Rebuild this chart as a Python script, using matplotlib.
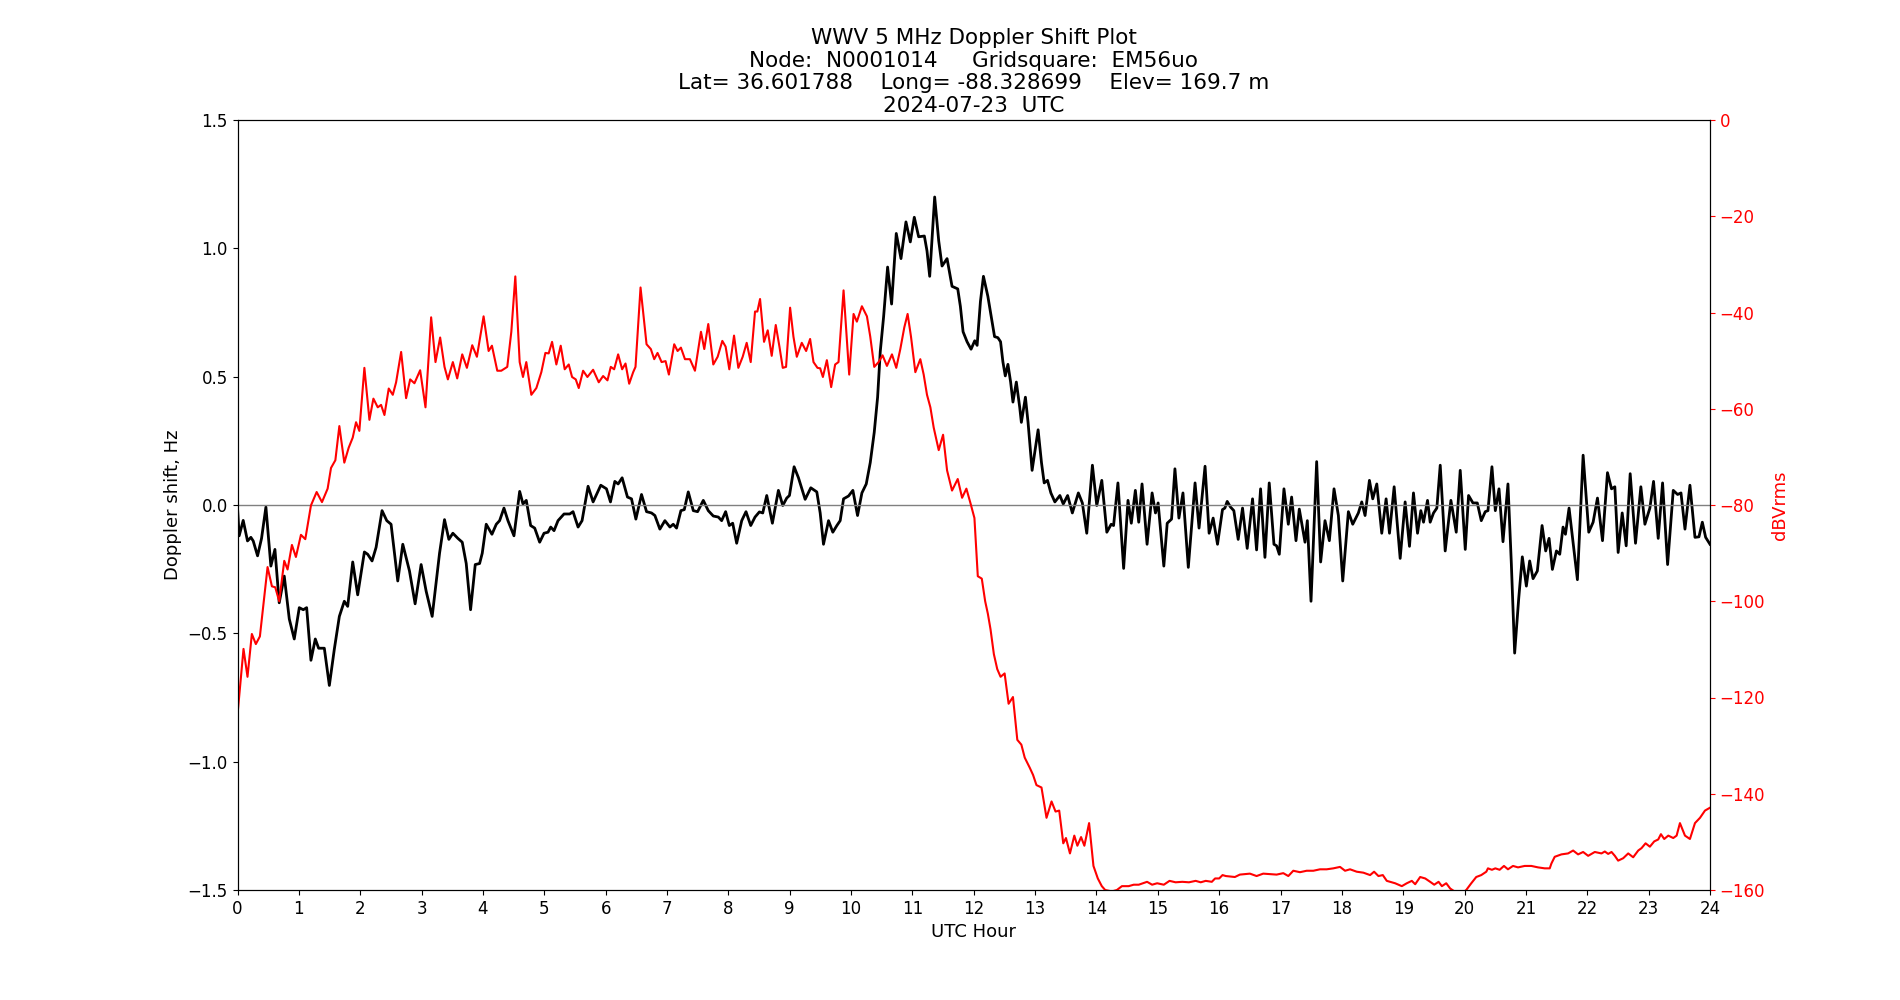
import matplotlib
matplotlib.use("Agg")
import matplotlib.pyplot as plt
import numpy as np

# Doppler shift (Hz) vs UTC hour
dop_hours = [0.0, 0.027, 0.093, 0.163, 0.218, 0.256, 0.327, 0.392, 0.463, 0.544, 0.61, 0.68, 0.762, 0.844, 0.925,
             1.007, 1.072, 1.127, 1.197, 1.268, 1.322, 1.415, 1.497, 1.578, 1.66, 1.741, 1.796, 1.878, 1.959,
             2.068, 2.122, 2.193, 2.259, 2.356, 2.433, 2.503, 2.612, 2.694, 2.803, 2.895, 2.993, 3.075, 3.173,
             3.293, 3.374, 3.445, 3.51, 3.592, 3.663, 3.728, 3.799, 3.875, 3.946, 3.989, 4.054,
             4.147, 4.218, 4.272, 4.343, 4.408, 4.506, 4.599, 4.653, 4.707, 4.778, 4.844, 4.925, 4.996,
             5.061, 5.105, 5.159, 5.224, 5.322, 5.415, 5.469, 5.551, 5.616, 5.714, 5.796, 5.921, 6.014,
             6.079, 6.15, 6.204, 6.269, 6.356, 6.422, 6.493, 6.585, 6.667, 6.748, 6.803, 6.884, 6.966,
             7.048, 7.102, 7.156, 7.227, 7.282, 7.347, 7.429, 7.499, 7.592, 7.673, 7.755, 7.837, 7.891,
             7.956, 8.016, 8.071, 8.136, 8.218, 8.288, 8.365, 8.435, 8.506, 8.561, 8.626, 8.718, 8.816,
             8.887, 8.952, 8.996, 9.072, 9.143, 9.252, 9.344, 9.442, 9.497, 9.551, 9.633, 9.703, 9.769,
             9.823, 9.878, 9.959, 10.03, 10.106, 10.177, 10.248, 10.313, 10.378, 10.433, 10.476, 10.531,
             10.596, 10.661, 10.737, 10.814, 10.895, 10.966, 11.031, 11.102, 11.195, 11.238, 11.282,
             11.363, 11.429, 11.483, 11.565, 11.646, 11.739, 11.782, 11.826, 11.891, 11.956, 12.016,
             12.055, 12.109, 12.158, 12.23, 12.284, 12.339, 12.393, 12.437, 12.475, 12.514, 12.557,
             12.601, 12.639, 12.694, 12.749, 12.776, 12.842, 12.885, 12.951, 13.049, 13.104, 13.148,
             13.202, 13.257, 13.322, 13.404, 13.459, 13.53, 13.607, 13.705, 13.77, 13.842, 13.934,
             14.005, 14.087, 14.169, 14.24, 14.279, 14.35, 14.443, 14.514, 14.568, 14.634, 14.689,
             14.743, 14.825, 14.907, 14.962, 15.005, 15.098, 15.153, 15.224, 15.279, 15.344, 15.41,
             15.497, 15.607, 15.672, 15.77, 15.836, 15.902, 15.973, 16.054, 16.093, 16.131, 16.185,
             16.239, 16.31, 16.381, 16.457, 16.544, 16.61, 16.675, 16.746, 16.816, 16.893, 16.936,
             16.98, 17.056, 17.127, 17.181, 17.252, 17.306, 17.399, 17.437, 17.497, 17.589, 17.654,
             17.725, 17.796, 17.872, 17.943, 18.014, 18.106, 18.177, 18.269, 18.324, 18.378, 18.449,
             18.503, 18.569, 18.65, 18.721, 18.776, 18.852, 18.95, 19.031, 19.102, 19.167, 19.233,
             19.287, 19.331, 19.396, 19.439, 19.494, 19.548, 19.603, 19.684, 19.777, 19.864, 19.929,
             20.011, 20.065, 20.136, 20.207, 20.272, 20.337, 20.381, 20.446, 20.501, 20.561, 20.626,
             20.707, 20.762, 20.816, 20.882, 20.941, 21.007, 21.061, 21.116, 21.186, 21.263, 21.322,
             21.377, 21.431, 21.497, 21.551, 21.605, 21.644, 21.703, 21.769, 21.839, 21.932, 22.024,
             22.095, 22.166, 22.248, 22.329, 22.395, 22.449, 22.503, 22.569, 22.634, 22.699, 22.786,
             22.873, 22.939, 23.02, 23.08, 23.156, 23.227, 23.309, 23.401, 23.472, 23.527, 23.592,
             23.673, 23.755, 23.82, 23.875, 23.929, 24.0]
dop_hz = [-0.01, -0.12, -0.06, -0.14, -0.126, -0.14, -0.198, -0.13, -0.008, -0.238, -0.173, -0.381, -0.277, -0.444, -0.522,
          -0.4, -0.408, -0.4, -0.605, -0.522, -0.558, -0.558, -0.703, -0.562, -0.434, -0.375, -0.395, -0.222, -0.35,
          -0.183, -0.192, -0.218, -0.165, -0.022, -0.061, -0.075, -0.296, -0.153, -0.257, -0.385, -0.232, -0.336, -0.434,
          -0.188, -0.057, -0.134, -0.11, -0.13, -0.145, -0.228, -0.408, -0.232, -0.228, -0.188, -0.075,
          -0.114, -0.075, -0.061, -0.012, -0.061, -0.12, 0.053, 0.004, 0.018, -0.08, -0.09, -0.145, -0.11,
          -0.106, -0.086, -0.1, -0.061, -0.035, -0.035, -0.026, -0.086, -0.061, 0.073, 0.012, 0.077, 0.063,
          0.012, 0.092, 0.082, 0.106, 0.031, 0.024, -0.055, 0.041, -0.026, -0.031, -0.041, -0.094, -0.061,
          -0.086, -0.075, -0.09, -0.022, -0.018, 0.051, -0.022, -0.026, 0.018, -0.022, -0.043, -0.047, -0.061,
          -0.026, -0.08, -0.071, -0.149, -0.061, -0.026, -0.08, -0.047, -0.027, -0.031, 0.037, -0.071, 0.057,
          -0.002, 0.027, 0.037, 0.149, 0.106, 0.022, 0.067, 0.051, -0.031, -0.153, -0.061, -0.106, -0.08,
          -0.061, 0.024, 0.035, 0.057, -0.041, 0.047, 0.082, 0.165, 0.283, 0.42, 0.597, 0.734,
          0.927, 0.783, 1.058, 0.96, 1.103, 1.025, 1.121, 1.045, 1.048, 0.99, 0.891,
          1.2, 1.029, 0.931, 0.96, 0.852, 0.842, 0.774, 0.675, 0.636, 0.607, 0.64,
          0.622, 0.793, 0.891, 0.813, 0.734, 0.656, 0.652, 0.636, 0.558, 0.503, 0.548,
          0.479, 0.401, 0.479, 0.381, 0.322, 0.42, 0.322, 0.135, 0.293, 0.165, 0.086,
          0.096, 0.047, 0.012, 0.037, 0.004, 0.037, -0.031, 0.047, 0.008, -0.11, 0.155,
          -0.002, 0.096, -0.106, -0.075, -0.08, 0.086, -0.247, 0.018, -0.071, 0.057, -0.067,
          0.082, -0.153, 0.047, -0.031, 0.008, -0.238, -0.071, -0.055, 0.141, -0.051, 0.047,
          -0.243, 0.086, -0.09, 0.151, -0.11, -0.051, -0.153, -0.018, -0.012, 0.014, -0.008,
          -0.022, -0.134, -0.012, -0.169, 0.024, -0.175, 0.063, -0.204, 0.086, -0.153, -0.159,
          -0.192, 0.063, -0.075, 0.031, -0.139, -0.016, -0.145, -0.061, -0.375, 0.169, -0.222,
          -0.061, -0.139, 0.063, -0.041, -0.296, -0.026, -0.075, -0.031, 0.012, -0.041, 0.096,
          0.024, 0.082, -0.11, 0.024, -0.11, 0.071, -0.208, 0.012, -0.161, 0.047, -0.11,
          -0.022, -0.067, 0.018, -0.067, -0.031, -0.012, 0.155, -0.179, 0.018, -0.106, 0.135,
          -0.173, 0.037, 0.008, 0.008, -0.061, -0.026, -0.022, 0.149, -0.022, 0.063, -0.143,
          0.082, -0.228, -0.577, -0.365, -0.202, -0.316, -0.218, -0.287, -0.257, -0.08, -0.179,
          -0.13, -0.251, -0.179, -0.192, -0.086, -0.114, -0.012, -0.149, -0.291, 0.194, -0.106,
          -0.067, 0.027, -0.139, 0.126, 0.063, 0.071, -0.185, -0.031, -0.159, 0.122, -0.149,
          0.071, -0.075, -0.012, 0.092, -0.13, 0.086, -0.232, 0.057, 0.041, 0.047, -0.094,
          0.077, -0.126, -0.124, -0.067, -0.126, -0.153]

# Received signal level (dBVrms) vs UTC hour
pwr_hours = [0.0, 0.098, 0.163, 0.234, 0.299, 0.365, 0.419, 0.49, 0.561, 0.615, 0.68, 0.762, 0.816, 0.887, 0.952,
             1.034, 1.105, 1.197, 1.29, 1.377, 1.469, 1.524, 1.595, 1.66, 1.741, 1.812, 1.878, 1.932, 1.986,
             2.068, 2.15, 2.215, 2.286, 2.34, 2.395, 2.465, 2.531, 2.585, 2.667, 2.748, 2.814, 2.884, 2.977,
             3.064, 3.156, 3.227, 3.303, 3.374, 3.429, 3.51, 3.581, 3.663, 3.739, 3.826, 3.902, 4.011,
             4.093, 4.147, 4.234, 4.299, 4.397, 4.463, 4.528, 4.599, 4.653, 4.707, 4.789, 4.871, 4.952,
             5.018, 5.072, 5.127, 5.197, 5.268, 5.333, 5.399, 5.453, 5.513, 5.562, 5.633, 5.703, 5.796,
             5.888, 5.959, 6.03, 6.084, 6.139, 6.204, 6.269, 6.324, 6.384, 6.449, 6.487, 6.569, 6.667,
             6.737, 6.792, 6.846, 6.912, 6.977, 7.031, 7.118, 7.173, 7.227, 7.293, 7.374, 7.456, 7.554,
             7.608, 7.673, 7.755, 7.826, 7.902, 7.956, 8.016, 8.093, 8.163, 8.234, 8.299, 8.365, 8.435,
             8.473, 8.517, 8.582, 8.642, 8.707, 8.773, 8.833, 8.887, 8.941, 9.007, 9.061, 9.116, 9.197,
             9.268, 9.333, 9.388, 9.453, 9.497, 9.541, 9.606, 9.676, 9.741, 9.796, 9.878, 9.97, 10.041,
             10.095, 10.177, 10.259, 10.313, 10.378, 10.449, 10.514, 10.585, 10.667, 10.737, 10.803,
             10.868, 10.922, 10.977, 11.048, 11.129, 11.184, 11.238, 11.293, 11.347, 11.429, 11.5,
             11.565, 11.646, 11.739, 11.81, 11.88, 11.946, 12.011, 12.066, 12.131, 12.186, 12.23,
             12.273, 12.328, 12.383, 12.437, 12.503, 12.568, 12.639, 12.71, 12.776, 12.831, 12.913,
             12.967, 13.022, 13.104, 13.186, 13.268, 13.333, 13.393, 13.459, 13.503, 13.568, 13.639,
             13.689, 13.749, 13.803, 13.88, 13.951, 14.022, 14.087, 14.142, 14.251, 14.333, 14.415,
             14.525, 14.607, 14.689, 14.825, 14.907, 14.989, 15.098, 15.191, 15.29, 15.399, 15.508,
             15.617, 15.699, 15.781, 15.88, 15.934, 16.0, 16.055, 16.109, 16.256, 16.337, 16.501,
             16.61, 16.718, 16.936, 17.045, 17.127, 17.208, 17.317, 17.426, 17.535, 17.644, 17.752,
             17.861, 17.97, 18.052, 18.133, 18.242, 18.351, 18.46, 18.525, 18.596, 18.667, 18.732,
             18.868, 18.977, 19.058, 19.14, 19.195, 19.276, 19.358, 19.439, 19.505, 19.576, 19.63,
             19.701, 19.766, 19.848, 19.956, 20.027, 20.109, 20.19, 20.272, 20.354, 20.381, 20.446,
             20.501, 20.571, 20.642, 20.707, 20.789, 20.871, 20.98, 21.088, 21.197, 21.306, 21.388,
             21.415, 21.469, 21.578, 21.687, 21.769, 21.85, 21.932, 22.014, 22.122, 22.231, 22.286,
             22.34, 22.395, 22.449, 22.503, 22.585, 22.667, 22.748, 22.83, 22.884, 22.95, 23.02,
             23.091, 23.156, 23.2, 23.254, 23.32, 23.401, 23.456, 23.51, 23.592, 23.673, 23.755,
             23.837, 23.918, 24.0]
pwr_db = [-123.6, -109.9, -115.7, -106.8, -108.9, -107.3, -101.0, -92.9, -96.9, -97.1, -100.0, -91.6, -93.4, -88.3, -90.8,
          -86.2, -87.1, -80.1, -77.3, -79.4, -76.6, -72.3, -70.7, -63.6, -71.2, -68.1, -66.0, -62.8, -64.6,
          -51.5, -62.3, -57.9, -59.7, -59.2, -61.3, -55.8, -57.1, -54.5, -48.2, -57.8, -53.9, -54.7, -52.0,
          -59.7, -41.0, -50.3, -45.2, -51.3, -53.9, -50.3, -53.7, -48.7, -51.5, -46.8, -49.2, -40.8,
          -48.0, -46.9, -52.1, -52.1, -51.3, -44.0, -32.5, -50.3, -53.4, -50.3, -57.1, -55.7, -52.4,
          -48.4, -48.5, -46.1, -50.8, -46.9, -51.8, -50.8, -53.4, -53.9, -55.7, -52.1, -53.4, -51.9,
          -54.5, -53.2, -54.1, -51.3, -51.8, -48.7, -51.8, -50.6, -54.8, -52.4, -51.3, -34.8, -46.6,
          -47.6, -49.7, -48.4, -50.3, -50.1, -52.9, -46.6, -48.0, -47.3, -49.7, -49.7, -52.1, -44.0,
          -47.6, -42.4, -50.8, -49.2, -45.9, -47.1, -51.8, -44.8, -51.5, -49.2, -46.3, -50.3, -39.8,
          -39.8, -37.2, -46.1, -43.7, -49.0, -42.6, -47.1, -51.5, -51.3, -39.0, -45.0, -49.2, -46.3,
          -48.0, -45.5, -50.3, -51.5, -51.6, -53.4, -49.9, -55.5, -50.8, -50.3, -35.4, -52.9, -40.3,
          -41.9, -38.7, -40.8, -45.0, -51.3, -50.3, -48.9, -51.1, -48.7, -51.5, -47.6,
          -43.1, -40.3, -45.0, -52.4, -49.7, -52.9, -57.1, -59.7, -63.9, -68.6, -65.4,
          -72.8, -77.0, -74.6, -78.5, -76.6, -79.6, -82.7, -94.8, -95.3, -100.0, -102.6,
          -105.8, -111.0, -114.1, -115.7, -115.0, -121.3, -119.9, -128.8, -129.8, -132.5, -134.6,
          -136.1, -138.2, -138.7, -145.0, -141.6, -143.7, -143.5, -150.3, -149.2, -152.4, -148.7,
          -150.8, -149.0, -150.8, -146.1, -155.0, -157.6, -159.2, -160.0, -160.3, -160.0, -159.2,
          -159.2, -158.9, -158.9, -158.3, -158.9, -158.6, -158.9, -158.1, -158.4, -158.3, -158.4,
          -158.1, -158.4, -158.1, -158.3, -157.6, -157.6, -156.9, -157.1, -157.3, -156.8, -156.6,
          -157.1, -156.6, -156.8, -156.5, -157.1, -156.0, -156.3, -156.0, -156.0, -155.7, -155.7,
          -155.5, -155.2, -156.0, -155.7, -156.2, -156.4, -156.9, -156.2, -157.1, -156.9, -158.1,
          -158.6, -159.2, -158.6, -158.1, -158.8, -157.3, -157.6, -158.3, -158.9, -158.3, -159.2,
          -158.6, -159.7, -160.4, -160.7, -160.0, -158.6, -157.3, -156.9, -156.2, -155.5, -155.8,
          -155.5, -155.8, -155.0, -155.7, -155.0, -155.3, -155.0, -155.0, -155.3, -155.5, -155.5,
          -154.5, -153.1, -152.6, -152.4, -151.8, -152.6, -152.1, -152.9, -152.1, -152.4, -152.0,
          -152.5, -152.1, -152.9, -153.9, -153.4, -152.4, -153.2, -151.8, -151.3, -150.3, -151.0,
          -149.9, -149.5, -148.4, -149.4, -148.7, -149.2, -148.7, -146.1, -148.7, -149.4, -146.1,
          -145.0, -143.5, -142.9]

x_ticks = list(range(0, 25))
title_lines = ["WWV 5 MHz Doppler Shift Plot",
               "Node:  N0001014     Gridsquare:  EM56uo",
               "Lat= 36.601788    Long= -88.328699    Elev= 169.7 m",
               "2024-07-23  UTC"]

fig = plt.figure(figsize=(19, 10), dpi=100)
ax1 = fig.add_subplot(111)
ax1.plot(dop_hours, dop_hz, color="black", linewidth=2)
ax1.axhline(0, color="gray", linewidth=1)
ax1.set_xlim(0, 24)
ax1.set_ylim(-1.5, 1.5)
ax1.set_xticks(x_ticks)
ax1.set_xlabel("UTC Hour", fontsize=13)
ax1.set_ylabel("Doppler shift, Hz", fontsize=13)
ax1.tick_params(labelsize=12)
ax1.set_title("\n".join(title_lines), fontsize=15.5, linespacing=1.16)

ax2 = ax1.twinx()
ax2.plot(pwr_hours, pwr_db, color="red", linewidth=1.5)
ax2.set_ylim(-160, 0)
ax2.set_ylabel("dBVrms", color="red", fontsize=13)
ax2.tick_params(axis="y", colors="red", labelsize=12)
ax2.spines["right"].set_color("black")

fig.savefig("out.png", dpi=100)
